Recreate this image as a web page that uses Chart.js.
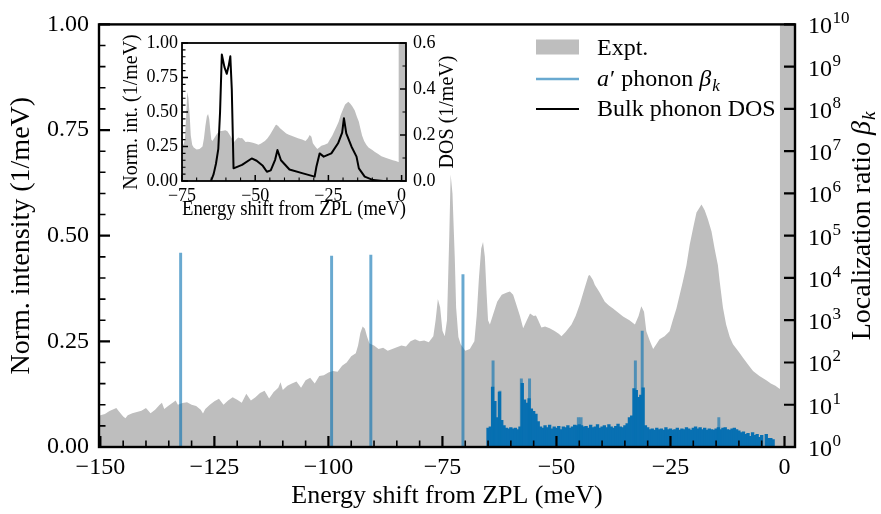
<!DOCTYPE html>
<html>
<head>
<meta charset="utf-8">
<script src="https://cdn.jsdelivr.net/npm/chart.js@4.4.1/dist/chart.umd.min.js"></script>
<style>
html,body{margin:0;padding:0;background:#fff;}
#wrap{position:relative;width:881px;height:514px;overflow:hidden;}
#main{position:absolute;left:0;top:0;}
#inset{position:absolute;left:120px;top:23px;}
</style>
</head>
<body>
<div id="wrap">
<canvas id="main" width="881" height="514"></canvas>
<canvas id="inset" width="345" height="200"></canvas>
</div>
<script>
// ---------- DATA ----------
// Experimental sideband (normalized intensity, 1/meV) vs energy shift from ZPL (meV)
const energy = [
  -150.3,-150,-149,-148,-147,-146.5,-146,-145,-144.5,-144,
  -143,-142,-141,-140,-139,-138,-137,-136.5,-136,-135,
  -134,-133.5,-133,-132,-131,-130,-129,-128,-127.5,-127,
  -126,-125,-124,-123,-122,-121,-120,-119,-118,-117,
  -116,-115,-114,-113,-112,-111,-110.5,-110,-109,-108,
  -107,-106,-105,-104,-103,-102,-101,-100,-99,-98,
  -97,-96,-95,-94,-93.5,-93,-92.5,-92,-91.5,-91,
  -90,-89,-88,-87,-86,-85,-84,-83,-82,-81,
  -80,-79,-78,-77,-76.5,-76,-75.5,-75,-74.5,-74,
  -73.5,-73.2,-72.8,-72.3,-72,-71.5,-71,-70,-69,-68,
  -67.5,-67,-66.5,-66.1,-65.7,-65.3,-65,-64.6,-64,-63,
  -62,-61,-60.2,-59.5,-59,-58,-57.3,-56.5,-55.8,-55,
  -54.5,-54,-53.3,-52.5,-51.5,-50.5,-49.5,-48.9,-48,-46.7,
  -45.8,-44.9,-44,-43,-42.7,-42,-41.6,-40.5,-39.4,-38.5,
  -37.6,-36.5,-35.4,-34,-32.8,-32,-31.4,-30.8,-30.3,-29.5,
  -28.8,-28,-27.4,-26.3,-25.2,-24.5,-23.7,-22.3,-21.5,-20.8,
  -20,-19.3,-18.2,-17.5,-16.8,-16,-15.3,-14.6,-14.2,-13.5,
  -12.8,-12,-11.3,-10,-9.1,-8,-6.9,-5.5,-4,-3,
  -2,-1.1,-1.0,2.3
];
const intensity = [
  0.072,0.075,0.078,0.085,0.09,0.092,0.085,0.072,0.068,0.075,
  0.08,0.083,0.086,0.092,0.08,0.088,0.1,0.105,0.09,0.098,
  0.106,0.11,0.1,0.104,0.106,0.1,0.097,0.088,0.079,0.09,
  0.1,0.108,0.114,0.1,0.11,0.118,0.112,0.105,0.126,0.11,
  0.118,0.128,0.133,0.115,0.13,0.14,0.153,0.135,0.145,0.15,
  0.155,0.14,0.158,0.164,0.15,0.168,0.17,0.176,0.18,0.178,
  0.192,0.2,0.215,0.222,0.24,0.27,0.285,0.28,0.26,0.245,
  0.24,0.232,0.235,0.228,0.232,0.236,0.24,0.238,0.25,0.255,
  0.25,0.252,0.248,0.262,0.3,0.35,0.33,0.275,0.262,0.3,
  0.5,0.645,0.6,0.45,0.33,0.26,0.243,0.228,0.232,0.25,
  0.31,0.4,0.47,0.485,0.45,0.36,0.3,0.29,0.31,0.344,
  0.36,0.365,0.368,0.36,0.344,0.31,0.281,0.3,0.316,0.31,
  0.311,0.3,0.283,0.285,0.281,0.275,0.268,0.262,0.272,0.29,
  0.31,0.337,0.37,0.405,0.407,0.395,0.384,0.365,0.344,0.335,
  0.328,0.318,0.309,0.3,0.29,0.31,0.333,0.32,0.274,0.25,
  0.232,0.245,0.255,0.262,0.274,0.3,0.328,0.391,0.43,0.478,
  0.52,0.555,0.574,0.56,0.539,0.51,0.468,0.43,0.391,0.33,
  0.29,0.26,0.243,0.225,0.211,0.195,0.18,0.168,0.158,0.15,
  0.145,0.138,1.5,1.5
];

// a' phonon localization ratio beta_k: dense band of modes
const betaDenseEnergy = [
  -65,-64.5,-64,-63.5,-63,-62.5,-62,-61.5,-61,-60.5,
  -60,-59.5,-59,-58.5,-58,-57.5,-57,-56.5,-56,-55.5,
  -55,-54.5,-54,-53.5,-53,-52.5,-52,-51.5,-51,-50.5,
  -50,-49.5,-49,-48.5,-48,-47.5,-47,-46.5,-46,-45.5,
  -45,-44.5,-44,-43.5,-43,-42.5,-42,-41.5,-41,-40.5,
  -40,-39.5,-39,-38.5,-38,-37.5,-37,-36.5,-36,-35.5,
  -35,-34.5,-34,-33.5,-33,-32.5,-32,-31.5,-31,-30.5,
  -30,-29.5,-29,-28.5,-28,-27.5,-27,-26.5,-26,-25.5,
  -25,-24.5,-24,-23.5,-23,-22.5,-22,-21.5,-21,-20.5,
  -20,-19.5,-19,-18.5,-18,-17.5,-17,-16.5,-16,-15.5,
  -15,-14.5,-14,-13.5,-13,-12.5,-12,-11.5,-11,-10.5,
  -10,-9.5,-9,-8.5,-8,-7.5,-7,-6.5,-6,-5.5,
  -5,-4.5,-4,-3.5,-3,-2.5
];
const betaDense = [
  2.8,3.0,26,12,5,20,4.3,3.2,2.8,2.7,
  2.9,2.7,2.8,2.6,3.0,32,13,11,14,8,
  7,6,4,3.0,2.8,3.2,2.9,3.3,2.7,3.0,
  2.8,3.1,2.6,3.0,2.9,3.2,2.8,3.0,3.3,3.2,
  3.4,3.2,3.0,3.1,2.8,3.3,2.9,3.0,3.4,2.8,
  3.0,3.2,2.9,3.4,3.0,2.8,3.1,3.5,3.0,2.9,
  3.2,3.6,5,5.5,24,22,15,17,25,3.2,
  2.9,2.6,2.7,2.5,2.8,2.6,2.7,2.5,2.9,2.6,
  2.7,2.5,2.6,2.8,2.5,2.7,2.6,2.9,2.7,2.5,
  2.8,3.0,2.7,2.9,2.6,2.8,2.5,2.7,2.6,2.5,
  2.7,2.9,2.6,2.8,2.9,2.6,2.5,2.7,2.8,2.6,
  2.4,2.2,2.3,2.0,2.1,1.8,2.2,1.9,2.0,1.7,
  1.9,1,2.0,1.6,1.6,1.5
];
// isolated / strongly localized modes
const betaModeEnergy = [-132.4,-99.3,-90.7,-70.5,-63.9,-62.4,-57.7,-55.9,-45.2,-44.6,-32.7,-31.2,-14.4];
const betaMode       = [39000,33000,35000,12000,110,21,41,41,5,5,110,550,5];

// Inset: bulk phonon density of states (1/meV)
const dosEnergy = [-65.1,-64.2,-63.4,-62.6,-62.0,-61.4,-60.5,-59.7,-59.0,-58.5,
  -58.0,-57.4,-54.5,-51.2,-49.5,-47.4,-46.0,-44.7,-43.2,-42.4,
  -41.2,-38.3,-33.7,-29.7,-29.1,-28.0,-26.6,-24.0,-21.7,-20.3,
  -19.7,-18.9,-17.1,-15.4,-14.6,-12.6,-9.7,-6.3,0];
const dosValue = [0,0.03,0.075,0.14,0.3,0.55,0.495,0.466,0.505,0.542,
  0.4,0.055,0.07,0.098,0.088,0.066,0.04,0.046,0.092,0.135,
  0.09,0.05,0.033,0.019,0.062,0.12,0.106,0.12,0.164,0.21,
  0.273,0.207,0.149,0.106,0.055,0.019,0.004,0,0];

// Tick labels
const xTickValues = [-150,-125,-100,-75,-50,-25,0];
const yTickValues = [0,0.25,0.5,0.75,1];
const decades = [0,1,2,3,4,5,6,7,8,9,10];
const insetXTicks = [-75,-50,-25,0];
const insetYTicks = [0,0.25,0.5,0.75,1];
const insetDosTicks = [0,0.2,0.4,0.6];

// ---------- STYLE ----------
const SERIF = '"Liberation Serif","Times New Roman",serif';
const GREY = '#bebebe';
const BLUE_SOLID = 'rgb(8,112,178)';
const BLUE_ALPHA = 'rgba(5,112,176,0.6)';
const minus = v => (v < 0 ? '\u2212' + Math.abs(v) : String(v));

function tickLines(ctx, scale, values, side, len, area) {
  ctx.beginPath();
  for (const v of values) {
    const p = scale.getPixelForValue(v);
    if (side === 'bottom') { ctx.moveTo(p, area.bottom); ctx.lineTo(p, area.bottom - len); }
    else if (side === 'left') { ctx.moveTo(area.left, p); ctx.lineTo(area.left + len, p); }
    else { ctx.moveTo(area.right, p); ctx.lineTo(area.right - len, p); }
  }
  ctx.stroke();
}
function stepList(from, to, step, skipEvery) {
  const out = [];
  for (let i = 0; from + i * step <= to + 1e-9; i++) {
    if (skipEvery && i % skipEvery === 0) continue;
    out.push(+(from + i * step).toFixed(4));
  }
  return out;
}

const mainDecor = {
  id: 'mainDecor',
  afterDraw(chart) {
    const ctx = chart.ctx, a = chart.chartArea;
    const sx = chart.scales.x, sy = chart.scales.y, sy2 = chart.scales.y2;
    ctx.save();
    ctx.strokeStyle = '#000';
    // ticks (inward)
    ctx.lineWidth = 1.6;
    tickLines(ctx, sx, stepList(-150, 0, 5, 5), 'bottom', 6.5, a);
    tickLines(ctx, sy, stepList(0, 1, 0.05, 5), 'left', 6.5, a);
    ctx.lineWidth = 2.2;
    tickLines(ctx, sx, xTickValues, 'bottom', 11, a);
    tickLines(ctx, sy, yTickValues, 'left', 11, a);
    tickLines(ctx, sy2, decades.map(n => Math.pow(10, n)), 'right', 11, a);
    // frame
    ctx.lineWidth = 2.4;
    ctx.strokeRect(a.left, a.top, a.right - a.left, a.bottom - a.top);

    // right axis tick labels 10^n
    ctx.fillStyle = '#000';
    ctx.textBaseline = 'alphabetic';
    ctx.textAlign = 'left';
    for (const n of decades) {
      const py = sy2.getPixelForValue(Math.pow(10, n));
      ctx.font = '24px ' + SERIF;
      ctx.fillText('10', 808, py + 9);
      const w = ctx.measureText('10').width;
      ctx.font = '17px ' + SERIF;
      ctx.fillText(String(n), 808 + w + 0.5, py - 1);
    }
    // right axis title: Localization ratio β_k (bottom-to-top)
    ctx.save();
    ctx.translate(870, 226);
    ctx.rotate(-Math.PI / 2);
    const p1 = 'Localization ratio ';
    ctx.font = '28px ' + SERIF;
    const w1 = ctx.measureText(p1).width;
    ctx.font = 'italic 28px ' + SERIF;
    const w2 = ctx.measureText('\u03b2').width;
    ctx.font = 'italic 19px ' + SERIF;
    const w3 = ctx.measureText('k').width;
    let x0 = -(w1 + w2 + w3 + 1) / 2;
    ctx.font = '28px ' + SERIF; ctx.fillText(p1, x0, 0);
    ctx.font = 'italic 28px ' + SERIF; ctx.fillText('\u03b2', x0 + w1, 0);
    ctx.font = 'italic 19px ' + SERIF; ctx.fillText('k', x0 + w1 + w2 + 1, 5);
    ctx.restore();

    // legend
    ctx.fillStyle = GREY;
    ctx.fillRect(536, 39.5, 43, 15);
    ctx.lineWidth = 2.5; ctx.strokeStyle = BLUE_ALPHA;
    ctx.beginPath(); ctx.moveTo(536, 79); ctx.lineTo(579, 79); ctx.stroke();
    ctx.lineWidth = 2; ctx.strokeStyle = '#000';
    ctx.beginPath(); ctx.moveTo(536, 109); ctx.lineTo(579, 109); ctx.stroke();
    ctx.fillStyle = '#000';
    ctx.font = '24px ' + SERIF;
    ctx.fillText('Expt.', 597, 55);
    let lx = 597;
    ctx.font = 'italic 24px ' + SERIF; ctx.fillText('a', lx, 86); lx += ctx.measureText('a').width + 1;
    ctx.font = '24px ' + SERIF; ctx.fillText('\u2032 phonon ', lx, 86); lx += ctx.measureText('\u2032 phonon ').width;
    ctx.font = 'italic 24px ' + SERIF; ctx.fillText('\u03b2', lx, 86); lx += ctx.measureText('\u03b2').width + 1;
    ctx.font = 'italic 17px ' + SERIF; ctx.fillText('k', lx, 91);
    ctx.font = '24px ' + SERIF;
    ctx.fillText('Bulk phonon DOS', 597, 116);
    ctx.restore();
  }
};

new Chart(document.getElementById('main'), {
  type: 'line',
  data: {
    datasets: [
      {
        type: 'line', label: 'Expt.',
        data: energy.map((e, i) => ({ x: e, y: intensity[i] })),
        xAxisID: 'x', yAxisID: 'y',
        fill: 'origin', backgroundColor: GREY,
        borderColor: 'rgba(0,0,0,0)', borderWidth: 0,
        pointRadius: 0, tension: 0, order: 3
      },
      {
        type: 'bar', label: "a\u2032 phonon \u03b2k (band)",
        data: betaDenseEnergy.map((e, i) => ({ x: e, y: betaDense[i] })),
        xAxisID: 'x', yAxisID: 'y2',
        backgroundColor: BLUE_SOLID, borderWidth: 0,
        barThickness: 2.7, grouped: false, order: 2
      },
      {
        type: 'bar', label: "a\u2032 phonon \u03b2k",
        data: betaModeEnergy.map((e, i) => ({ x: e, y: betaMode[i] })),
        xAxisID: 'x', yAxisID: 'y2',
        backgroundColor: BLUE_ALPHA, borderWidth: 0,
        barThickness: 2.3, grouped: false, order: 1
      }
    ]
  },
  options: {
    responsive: false,
    animation: false,
    devicePixelRatio: 1,
    layout: { padding: { top: 20, left: 0, right: 0, bottom: 0 } },
    plugins: { legend: { display: false }, tooltip: { enabled: false } },
    scales: {
      x: {
        type: 'linear', position: 'bottom', min: -150.3, max: 2.3, offset: false,
        grid: { display: false, drawTicks: false }, border: { display: false },
        afterBuildTicks: s => { s.ticks = xTickValues.map(v => ({ value: v })); },
        ticks: { font: { family: SERIF, size: 24 }, color: '#000', padding: 6,
                 autoSkip: false, maxRotation: 0, callback: v => minus(v) },
        title: { display: true, text: 'Energy shift from ZPL (meV)', color: '#000',
                 font: { family: SERIF, size: 26 }, padding: { top: 0, bottom: 2 } },
        afterFit: s => { s.height = 67; }
      },
      y: {
        type: 'linear', position: 'left', min: 0, max: 1,
        grid: { display: false, drawTicks: false }, border: { display: false },
        afterBuildTicks: s => { s.ticks = yTickValues.map(v => ({ value: v })); },
        ticks: { font: { family: SERIF, size: 24 }, color: '#000', padding: 10,
                 autoSkip: false, callback: v => v.toFixed(2) },
        title: { display: true, text: 'Norm. intensity (1/meV)', color: '#000',
                 font: { family: SERIF, size: 28 }, padding: { top: 5, bottom: 0 } },
        afterFit: s => { s.width = 99; }
      },
      y2: {
        type: 'logarithmic', position: 'right', min: 1, max: 1e10,
        grid: { display: false, drawTicks: false }, border: { display: false },
        ticks: { display: false },
        afterFit: s => { s.width = 86; }
      }
    }
  },
  plugins: [mainDecor]
});

// ---------- INSET ----------
const insetDecor = {
  id: 'insetDecor',
  beforeDraw(chart) {
    const ctx = chart.ctx, a = chart.chartArea;
    ctx.save();
    ctx.fillStyle = '#fff';
    ctx.fillRect(a.left, a.top, a.right - a.left, a.bottom - a.top);
    ctx.restore();
  },
  afterDraw(chart) {
    const ctx = chart.ctx, a = chart.chartArea;
    const sx = chart.scales.x, sy = chart.scales.y, sy2 = chart.scales.y2;
    ctx.save();
    ctx.strokeStyle = '#000';
    ctx.lineWidth = 1.1;
    tickLines(ctx, sx, stepList(-75, 0, 5, 5), 'bottom', 3.5, a);
    tickLines(ctx, sy, stepList(0, 1, 0.05, 5), 'left', 3.5, a);
    tickLines(ctx, sy2, stepList(0, 0.6, 0.1, 2), 'right', 3.5, a);
    ctx.lineWidth = 1.5;
    tickLines(ctx, sx, insetXTicks, 'bottom', 6, a);
    tickLines(ctx, sy, insetYTicks, 'left', 6, a);
    tickLines(ctx, sy2, insetDosTicks, 'right', 6, a);
    ctx.lineWidth = 1.8;
    ctx.strokeRect(a.left, a.top, a.right - a.left, a.bottom - a.top);
    // right title DOS (1/meV), bottom-to-top
    ctx.save();
    ctx.translate(328, (a.top + a.bottom) / 2);
    ctx.rotate(-Math.PI / 2);
    ctx.fillStyle = '#000';
    ctx.font = '20px ' + SERIF;
    ctx.textAlign = 'center';
    ctx.textBaseline = 'middle';
    ctx.fillText('DOS (1/meV)', 0, 0);
    ctx.restore();
    ctx.restore();
  }
};

new Chart(document.getElementById('inset'), {
  type: 'line',
  data: {
    datasets: [
      {
        label: 'Expt.',
        data: energy.map((e, i) => ({ x: e, y: intensity[i] })).filter(p => p.x >= -76.5),
        yAxisID: 'y', fill: 'origin', backgroundColor: GREY,
        borderColor: 'rgba(0,0,0,0)', borderWidth: 0, pointRadius: 0, tension: 0, order: 2
      },
      {
        label: 'Bulk phonon DOS',
        data: dosEnergy.map((e, i) => ({ x: e, y: dosValue[i] })),
        yAxisID: 'y2', fill: false, borderColor: '#000', borderWidth: 2,
        borderJoinStyle: 'round', borderCapStyle: 'round',
        pointRadius: 0, tension: 0, order: 1
      }
    ]
  },
  options: {
    responsive: false,
    animation: false,
    devicePixelRatio: 1,
    layout: { padding: { top: 20, left: 0, right: 0, bottom: 0 } },
    plugins: { legend: { display: false }, tooltip: { enabled: false } },
    scales: {
      x: {
        type: 'linear', min: -75, max: 1.5, offset: false,
        grid: { display: false, drawTicks: false }, border: { display: false },
        afterBuildTicks: s => { s.ticks = insetXTicks.map(v => ({ value: v })); },
        ticks: { font: { family: SERIF, size: 18 }, color: '#000', padding: 4,
                 autoSkip: false, maxRotation: 0, callback: v => minus(v) },
        title: { display: true, text: 'Energy shift from ZPL (meV)', color: '#000',
                 font: { family: SERIF, size: 20 }, padding: { top: 0, bottom: 1 } },
        afterFit: s => { s.height = 42; }
      },
      y: {
        type: 'linear', position: 'left', min: 0, max: 1,
        grid: { display: false, drawTicks: false }, border: { display: false },
        afterBuildTicks: s => { s.ticks = insetYTicks.map(v => ({ value: v })); },
        ticks: { font: { family: SERIF, size: 18 }, color: '#000', padding: 4,
                 autoSkip: false, callback: v => v.toFixed(2) },
        title: { display: true, text: 'Norm. int. (1/meV)', color: '#000',
                 font: { family: SERIF, size: 20 }, padding: { top: 0, bottom: 0 } },
        afterFit: s => { s.width = 62; }
      },
      y2: {
        type: 'linear', position: 'right', min: 0, max: 0.6,
        grid: { display: false, drawTicks: false }, border: { display: false },
        afterBuildTicks: s => { s.ticks = insetDosTicks.map(v => ({ value: v })); },
        ticks: { font: { family: SERIF, size: 18 }, color: '#000', padding: 7,
                 autoSkip: false, callback: v => v.toFixed(1) },
        afterFit: s => { s.width = 59; }
      }
    }
  },
  plugins: [insetDecor]
});
</script>
</body>
</html>
